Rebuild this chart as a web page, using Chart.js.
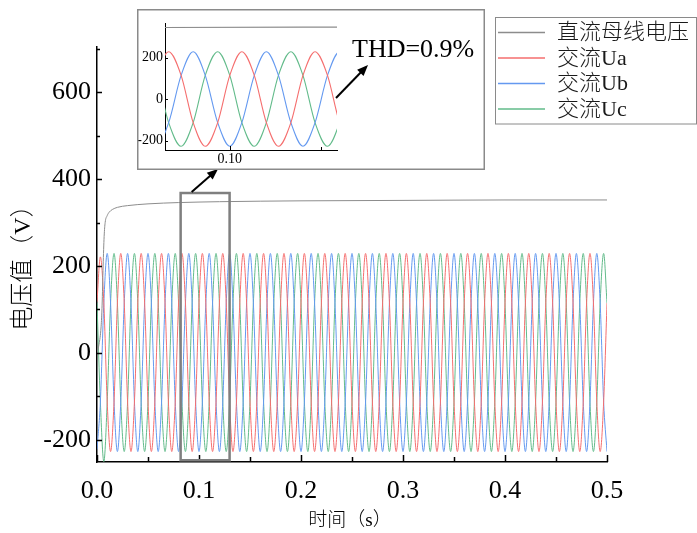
<!DOCTYPE html>
<html>
<head>
<meta charset="utf-8">
<script src="https://cdn.jsdelivr.net/npm/chart.js@4.4.1/dist/chart.umd.min.js"></script>
<style>
  html, body { margin: 0; padding: 0; background: #fff; }
  #wrap { position: relative; width: 697px; height: 533px; overflow: hidden; }
  #mainChart { position: absolute; left: 0; top: 0; }
  #insetChart { position: absolute; left: 137px; top: 9px; }
</style>
</head>
<body>
<div id="wrap">
  <canvas id="mainChart" width="697" height="533" style="width:697px;height:533px"></canvas>
  <canvas id="insetChart" width="348" height="161" style="width:348px;height:161px"></canvas>
</div>
<script>
// sample times (s), three samples per half cycle of the 50 Hz waves
const TIME_S = [
  0, 0.0033, 0.0067, 0.01, 0.0133, 0.0167, 0.02, 0.0233, 0.0267, 0.03, 0.0333, 0.0367,
  0.04, 0.0433, 0.0467, 0.05, 0.0533, 0.0567, 0.06, 0.0633, 0.0667, 0.07, 0.0733, 0.0767,
  0.08, 0.0833, 0.0867, 0.09, 0.0933, 0.0967, 0.10, 0.1033, 0.1067, 0.11, 0.1133, 0.1167,
  0.12, 0.1233, 0.1267, 0.13, 0.1333, 0.1367, 0.14, 0.1433, 0.1467, 0.15, 0.1533, 0.1567,
  0.16, 0.1633, 0.1667, 0.17, 0.1733, 0.1767, 0.18, 0.1833, 0.1867, 0.19, 0.1933, 0.1967,
  0.20, 0.2033, 0.2067, 0.21, 0.2133, 0.2167, 0.22, 0.2233, 0.2267, 0.23, 0.2333, 0.2367,
  0.24, 0.2433, 0.2467, 0.25, 0.2533, 0.2567, 0.26, 0.2633, 0.2667, 0.27, 0.2733, 0.2767,
  0.28, 0.2833, 0.2867, 0.29, 0.2933, 0.2967, 0.30, 0.3033, 0.3067, 0.31, 0.3133, 0.3167,
  0.32, 0.3233, 0.3267, 0.33, 0.3333, 0.3367, 0.34, 0.3433, 0.3467, 0.35, 0.3533, 0.3567,
  0.36, 0.3633, 0.3667, 0.37, 0.3733, 0.3767, 0.38, 0.3833, 0.3867, 0.39, 0.3933, 0.3967,
  0.40, 0.4033, 0.4067, 0.41, 0.4133, 0.4167, 0.42, 0.4233, 0.4267, 0.43, 0.4333, 0.4367,
  0.44, 0.4433, 0.4467, 0.45, 0.4533, 0.4567, 0.46, 0.4633, 0.4667, 0.47, 0.4733, 0.4767,
  0.48, 0.4833, 0.4867, 0.49, 0.4933, 0.4967, 0.50
];

// phase voltages (V) at TIME_S
const UA = [
  118, 221, 115, -113, -227, -113, 115, 229, 115, -113, -227, -113,
  115, 229, 115, -113, -227, -113, 115, 229, 115, -113, -227, -113,
  115, 229, 115, -113, -227, -113, 115, 229, 115, -113, -227, -113,
  115, 229, 115, -113, -227, -113, 115, 229, 115, -113, -227, -113,
  115, 229, 115, -113, -227, -113, 115, 229, 115, -113, -227, -113,
  115, 229, 115, -113, -227, -113, 115, 229, 115, -113, -227, -113,
  115, 229, 115, -113, -227, -113, 115, 229, 115, -113, -227, -113,
  115, 229, 115, -113, -227, -113, 115, 229, 115, -113, -227, -113,
  115, 229, 115, -113, -227, -113, 115, 229, 115, -113, -227, -113,
  115, 229, 115, -113, -227, -113, 115, 229, 115, -113, -227, -113,
  115, 229, 115, -113, -227, -113, 115, 229, 115, -113, -227, -113,
  115, 229, 115, -113, -227, -113, 115, 229, 115, -113, -227, -113,
  115, 229, 115, -113, -227, -113, 115
];
const UB = [
  -222, -113, 115, 229, 115, -113, -227, -113, 115, 229, 115, -113,
  -227, -113, 115, 229, 115, -113, -227, -113, 115, 229, 115, -113,
  -227, -113, 115, 229, 115, -113, -227, -113, 115, 229, 115, -113,
  -227, -113, 115, 229, 115, -113, -227, -113, 115, 229, 115, -113,
  -227, -113, 115, 229, 115, -113, -227, -113, 115, 229, 115, -113,
  -227, -113, 115, 229, 115, -113, -227, -113, 115, 229, 115, -113,
  -227, -113, 115, 229, 115, -113, -227, -113, 115, 229, 115, -113,
  -227, -113, 115, 229, 115, -113, -227, -113, 115, 229, 115, -113,
  -227, -113, 115, 229, 115, -113, -227, -113, 115, 229, 115, -113,
  -227, -113, 115, 229, 115, -113, -227, -113, 115, 229, 115, -113,
  -227, -113, 115, 229, 115, -113, -227, -113, 115, 229, 115, -113,
  -227, -113, 115, 229, 115, -113, -227, -113, 115, 229, 115, -113,
  -227, -113, 115, 229, 115, -113, -227
];
const UC = [
  115, -113, -250, -113, 115, 229, 115, -113, -227, -113, 115, 229,
  115, -113, -227, -113, 115, 229, 115, -113, -227, -113, 115, 229,
  115, -113, -227, -113, 115, 229, 115, -113, -227, -113, 115, 229,
  115, -113, -227, -113, 115, 229, 115, -113, -227, -113, 115, 229,
  115, -113, -227, -113, 115, 229, 115, -113, -227, -113, 115, 229,
  115, -113, -227, -113, 115, 229, 115, -113, -227, -113, 115, 229,
  115, -113, -227, -113, 115, 229, 115, -113, -227, -113, 115, 229,
  115, -113, -227, -113, 115, 229, 115, -113, -227, -113, 115, 229,
  115, -113, -227, -113, 115, 229, 115, -113, -227, -113, 115, 229,
  115, -113, -227, -113, 115, 229, 115, -113, -227, -113, 115, 229,
  115, -113, -227, -113, 115, 229, 115, -113, -227, -113, 115, 229,
  115, -113, -227, -113, 115, 229, 115, -113, -227, -113, 115, 229,
  115, -113, -227, -113, 115, 229, 115
];

// DC bus voltage
const DC_T = [0, 0.002, 0.004, 0.005, 0.006, 0.007, 0.008, 0.010, 0.012, 0.015, 0.020, 0.030, 0.050, 0.080, 0.120, 0.200, 0.300, 0.400, 0.500];
const DC_V = [0, 20, 60, 110, 200, 268, 300, 316, 324, 330, 335, 339, 343, 346, 348, 350, 351, 352, 352];

const SERIES_LABELS = ['直流母线电压', '交流Ua', '交流Ub', '交流Uc'];
const SERIES_COLORS = ['#8c8c8c', '#f56e6e', '#6499f0', '#62bb8a'];

const X_MAJOR = [0, 0.1, 0.2, 0.3, 0.4, 0.5];
const X_MINOR = [0.05, 0.15, 0.25, 0.35, 0.45];
const Y_MAJOR = [-200, 0, 200, 400, 600];
const Y_MINOR = [-100, 100, 300, 500, 700];

const INSET_X_MAJOR = [0.10];
const INSET_X_MINOR = [0.125];
const INSET_Y_MAJOR = [-200, 0, 200];

// zoomed window marked on the main plot
const ZOOM_BOX = { t0: 0.082, t1: 0.130, v0: -247, v1: 368 };

const SERIF = "'Liberation Serif', 'Times New Roman', serif";
const CJK = "'Liberation Serif', 'Noto Sans CJK SC', sans-serif";

function toPoints(xs, ys) {
    return xs.map((x, i) => ({ x: x, y: ys[i] }));
}

function buildDatasets(width) {
    const values = [DC_V, UA, UB, UC];
    return values.map((v, i) => ({
        label: SERIES_LABELS[i],
        data: i === 0 ? toPoints(DC_T, DC_V) : toPoints(TIME_S, v),
        borderColor: SERIES_COLORS[i],
        borderWidth: width,
        pointRadius: 0,
        fill: false,
        cubicInterpolationMode: 'monotone'
    }));
}

function drawArrow(ctx, x1, y1, x2, y2) {
    const ang = Math.atan2(y2 - y1, x2 - x1);
    const len = 11, half = 4.5;
    ctx.save();
    ctx.strokeStyle = '#000';
    ctx.fillStyle = '#000';
    ctx.lineWidth = 2;
    ctx.beginPath();
    ctx.moveTo(x1, y1);
    ctx.lineTo(x2 - Math.cos(ang) * len * 0.8, y2 - Math.sin(ang) * len * 0.8);
    ctx.stroke();
    ctx.beginPath();
    ctx.moveTo(x2, y2);
    ctx.lineTo(x2 - Math.cos(ang) * len - Math.sin(ang) * half, y2 - Math.sin(ang) * len + Math.cos(ang) * half);
    ctx.lineTo(x2 - Math.cos(ang) * len + Math.sin(ang) * half, y2 - Math.sin(ang) * len - Math.cos(ang) * half);
    ctx.closePath();
    ctx.fill();
    ctx.restore();
}

// tick marks pointing into the plot, with minor ticks
function drawInnerTicks(chart, spec) {
    const { ctx, chartArea } = chart;
    const xs = chart.scales.x, ys = chart.scales.y;
    ctx.save();
    ctx.strokeStyle = '#000';
    ctx.lineWidth = spec.width;
    ctx.beginPath();
    const xt = (list, len) => list.forEach(v => {
        const p = Math.round(xs.getPixelForValue(v)) + 0.5;
        ctx.moveTo(p, chartArea.bottom);
        ctx.lineTo(p, chartArea.bottom - len);
    });
    const yt = (list, len) => list.forEach(v => {
        const p = Math.round(ys.getPixelForValue(v)) + 0.5;
        ctx.moveTo(chartArea.left, p);
        ctx.lineTo(chartArea.left + len, p);
    });
    xt(spec.xMajor, spec.xMajorLen);
    xt(spec.xMinor, spec.xMinorLen);
    yt(spec.yMajor, spec.yMajorLen);
    yt(spec.yMinor, spec.yMinorLen);
    ctx.stroke();
    ctx.restore();
}

const mainOverlay = {
    id: 'mainOverlay',
    afterDraw(chart) {
        const { ctx } = chart;
        const xs = chart.scales.x, ys = chart.scales.y;

        drawInnerTicks(chart, {
            width: 1.5,
            xMajor: X_MAJOR, xMajorLen: 7, xMinor: X_MINOR, xMinorLen: 5,
            yMajor: Y_MAJOR, yMajorLen: 5, yMinor: Y_MINOR, yMinorLen: 3
        });

        // zoom window box
        const bx0 = xs.getPixelForValue(ZOOM_BOX.t0), bx1 = xs.getPixelForValue(ZOOM_BOX.t1);
        const by0 = ys.getPixelForValue(ZOOM_BOX.v1), by1 = ys.getPixelForValue(ZOOM_BOX.v0);
        ctx.save();
        ctx.strokeStyle = '#7f7f7f';
        ctx.lineWidth = 2.5;
        ctx.strokeRect(bx0, by0, bx1 - bx0, by1 - by0);
        ctx.restore();

        // arrow from box to the inset
        drawArrow(ctx, bx0 + 11, by0 - 1, 218, 169);

        // axis titles
        ctx.save();
        ctx.fillStyle = '#000';
        ctx.textAlign = 'center';
        ctx.textBaseline = 'middle';
        ctx.font = "300 19px " + CJK;
        ctx.fillText('时间（s）', 350, 521);
        ctx.translate(24, 262);
        ctx.rotate(-Math.PI / 2);
        ctx.font = "300 24px " + CJK;
        ctx.fillText('电压值（V）', 0, 0);
        ctx.restore();

        // legend box
        ctx.save();
        ctx.strokeStyle = '#8a8a8a';
        ctx.lineWidth = 1;
        ctx.strokeRect(495.5, 17.5, 201, 106.5);
        ctx.font = "300 22px " + CJK;
        ctx.textBaseline = 'middle';
        ctx.textAlign = 'left';
        chart.data.datasets.forEach((ds, i) => {
            const y = 32.5 + i * 25.5;
            ctx.strokeStyle = ds.borderColor;
            ctx.lineWidth = 1.5;
            ctx.beginPath();
            ctx.moveTo(498, y);
            ctx.lineTo(545, y);
            ctx.stroke();
            ctx.fillStyle = '#1a1a1a';
            ctx.fillText(ds.label, 557, y + 1);
        });
        ctx.restore();
    }
};

const insetOverlay = {
    id: 'insetOverlay',
    afterDraw(chart) {
        const { ctx } = chart;
        drawInnerTicks(chart, {
            width: 1,
            xMajor: INSET_X_MAJOR, xMajorLen: 4, xMinor: INSET_X_MINOR, xMinorLen: 3,
            yMajor: INSET_Y_MAJOR, yMajorLen: 3, yMinor: [], yMinorLen: 0
        });
        ctx.save();
        ctx.strokeStyle = '#8a8a8a';
        ctx.lineWidth = 1.5;
        ctx.strokeRect(0.75, 0.75, 346.5, 159.5);
        ctx.fillStyle = '#000';
        ctx.font = '26px ' + SERIF;
        ctx.textAlign = 'left';
        ctx.textBaseline = 'middle';
        ctx.fillText('THD=0.9%', 215, 41);
        ctx.restore();
        drawArrow(ctx, 199, 89, 231, 56);
    }
};

function axisOptions(opts) {
    return {
        type: 'linear',
        min: opts.min,
        max: opts.max,
        grid: { display: false, drawTicks: false },
        border: { display: true, color: '#000', width: opts.borderWidth },
        afterBuildTicks: (scale) => { scale.ticks = opts.ticks.map(v => ({ value: v })); },
        afterFit: (scale) => {
            if (opts.width) scale.width = opts.width;
            if (opts.height) scale.height = opts.height;
        },
        ticks: {
            autoSkip: false,
            maxRotation: 0,
            padding: opts.padding,
            color: '#000',
            font: { family: SERIF, size: opts.fontSize },
            callback: opts.format
        }
    };
}

const mainChart = new Chart(document.getElementById('mainChart'), {
    type: 'line',
    data: { datasets: buildDatasets(1) },
    options: {
        responsive: false,
        animation: false,
        events: [],
        layout: { padding: { left: 0, top: 47, right: 90, bottom: 0 } },
        plugins: { legend: { display: false }, tooltip: { enabled: false } },
        scales: {
            x: axisOptions({ min: 0, max: 0.5, ticks: X_MAJOR, height: 71, padding: 14, fontSize: 26,
                             borderWidth: 1.5, format: (v) => Number(v).toFixed(1) }),
            y: axisOptions({ min: -251, max: 704, ticks: Y_MAJOR, width: 97, padding: 6, fontSize: 26,
                             borderWidth: 1.5, format: (v) => String(v) })
        }
    },
    plugins: [mainOverlay]
});

const insetChart = new Chart(document.getElementById('insetChart'), {
    type: 'line',
    data: { datasets: buildDatasets(1.1) },
    options: {
        responsive: false,
        animation: false,
        events: [],
        layout: { padding: { left: 0, top: 14, right: 148, bottom: 0 } },
        plugins: { legend: { display: false }, tooltip: { enabled: false } },
        scales: {
            x: axisOptions({ min: 0.0823, max: 0.1293, ticks: INSET_X_MAJOR, height: 20, padding: 1, fontSize: 14,
                             borderWidth: 1, format: (v) => Number(v).toFixed(2) }),
            y: axisOptions({ min: -245, max: 368, ticks: INSET_Y_MAJOR, width: 28, padding: 2, fontSize: 14,
                             borderWidth: 1, format: (v) => String(v) })
        }
    },
    plugins: [insetOverlay]
});
</script>
</body>
</html>
